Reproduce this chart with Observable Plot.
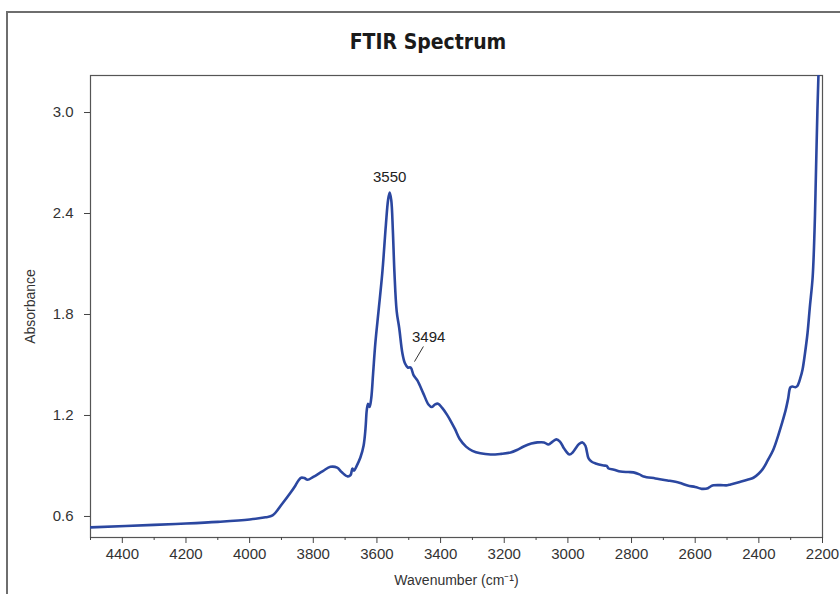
<!DOCTYPE html>
<html>
<head>
<meta charset="utf-8">
<script src="https://cdn.jsdelivr.net/npm/d3@7"></script>
<script src="https://cdn.jsdelivr.net/npm/@observablehq/plot@0.6"></script>
<style>
  html, body { margin: 0; padding: 0; background: #fff; width: 840px; height: 594px; overflow: hidden; }
  #frame { position: absolute; left: 6px; top: 11px; width: 860px; height: 620px; border: 2px solid #6e6e6e; box-sizing: border-box; }
  #title { position: absolute; left: 0; width: 856px; top: 30px; text-align: center;
    font-family: "Liberation Sans Narrow", "DejaVu Sans Condensed", "Liberation Sans", sans-serif;
    font-weight: bold; font-size: 21px; color: #1a1a1a; }
  #chart { position: absolute; left: 0; top: 60px; }
</style>
</head>
<body>
<div id="frame"></div>
<div id="title">FTIR Spectrum</div>
<div id="chart"></div>
<script>
const wavenumber = [4500,4300,4200,4100,4000,3950,3928,3897,3870,3856,3846,3838,3828,3818,3800,3770,3746,3725,3710,3692,3683,3677,3672,3665,3652,3642,3636,3632,3628,3623,3618,3612,3605,3595,3583,3572,3565,3560,3555,3550,3545,3538,3530,3520,3512,3503,3494,3485,3473,3454,3438,3428,3418,3408,3395,3380,3369,3355,3340,3320,3300,3275,3243,3210,3180,3160,3139,3115,3096,3075,3061,3048,3036,3025,3014,3005,2995,2985,2976,2965,2954,2945,2935,2925,2913,2888,2878,2872,2855,2835,2810,2794,2775,2762,2725,2687,2650,2624,2600,2583,2577,2560,2550,2542,2520,2499,2489,2460,2436,2417,2400,2385,2373,2355,2341,2328,2316,2308,2301,2295,2285,2279,2270,2263,2255,2247,2240,2231,2225,2222,2216,2210,2205];
const absorbance = [0.535,0.550,0.558,0.568,0.582,0.595,0.606,0.677,0.745,0.784,0.815,0.830,0.828,0.818,0.835,0.870,0.895,0.890,0.862,0.838,0.845,0.885,0.872,0.895,0.950,1.02,1.12,1.23,1.27,1.25,1.30,1.45,1.63,1.82,2.05,2.33,2.48,2.525,2.48,2.30,2.05,1.82,1.72,1.57,1.51,1.485,1.485,1.44,1.408,1.33,1.265,1.250,1.265,1.270,1.245,1.205,1.170,1.12,1.06,1.015,0.99,0.975,0.968,0.972,0.98,0.995,1.016,1.033,1.040,1.040,1.028,1.045,1.058,1.045,1.010,0.985,0.968,0.980,1.004,1.030,1.040,1.020,0.945,0.925,0.915,0.903,0.900,0.885,0.878,0.867,0.864,0.862,0.850,0.838,0.826,0.814,0.800,0.784,0.775,0.766,0.764,0.768,0.780,0.785,0.786,0.785,0.790,0.805,0.818,0.830,0.855,0.890,0.930,0.995,1.07,1.15,1.23,1.30,1.367,1.372,1.368,1.375,1.42,1.47,1.57,1.69,1.84,2.02,2.30,2.52,3.01,3.40,3.80];

const majorTicksX = [4400,4200,4000,3800,3600,3400,3200,3000,2800,2600,2400,2200];
const minorTicksX = [4500,4300,4100,3900,3700,3500,3300,3100,2900,2700,2500,2300];
const ticksY = [0.6,1.2,1.8,2.4,3.0];
const xLabel = "Wavenumber (cm⁻¹)";
const yLabel = "Absorbance";

const annotLabels = ["3550","3494"];
const annotX = [3560,3494];
const annotY = [2.525,1.485];
const leaderFrom = [3482,1.52];
const leaderTo = [3454,1.61];

const data = wavenumber.map((w,i)=>({w, a: absorbance[i]}));
const annots = annotLabels.map((t,i)=>({t, w: annotX[i], a: annotY[i]}));

const font = "'Liberation Sans', Arial, sans-serif";
const chart = Plot.plot({
  width: 840,
  height: 534,
  marginLeft: 90,
  marginRight: 18,
  marginTop: 15,
  marginBottom: 57,
  style: {fontFamily: font, fontSize: "15px", color: "#333", background: "transparent"},
  x: {domain: [4500, 2200], label: null},
  y: {domain: [0.475, 3.22], label: null},
  marks: [
    Plot.frame({stroke: "#555", strokeWidth: 1.2}),
    Plot.axisX(minorTicksX, {tickSize: 3, tickFormat: () => "", stroke: "#444", label: null}),
    Plot.axisX(majorTicksX, {tickSize: 6, tickPadding: 5, stroke: "#444", fontSize: 15,
      tickFormat: d => String(d), label: null}),
    Plot.axisY(ticksY, {tickSize: 6, tickPadding: 11, stroke: "#444", fontSize: 15,
      tickFormat: d => d.toFixed(1), label: null}),
    Plot.text([xLabel], {frameAnchor: "bottom", dy: 43, text: d => d, fontSize: 14, fill: "#333",
      textAnchor: "middle", lineAnchor: "middle"}),
    Plot.text([yLabel], {frameAnchor: "left", dx: -60, rotate: -90, text: d => d, fontSize: 14, fill: "#333",
      textAnchor: "middle", lineAnchor: "middle"}),
    Plot.line(data, {x: "w", y: "a", stroke: "#2b47a0", strokeWidth: 2.6, curve: "catmull-rom", clip: true}),
    Plot.text(annots.slice(0,1), {x: "w", y: "a", text: "t", dy: -15, fontSize: 15, fill: "#222"}),
    Plot.text(annots.slice(1), {x: "w", y: "a", text: "t", dx: 18, dy: -30, fontSize: 15, fill: "#222"}),
    Plot.link([{x1: leaderFrom[0], y1: leaderFrom[1], x2: leaderTo[0], y2: leaderTo[1]}], {x1: "x1", y1: "y1", x2: "x2", y2: "y2", stroke: "#333", strokeWidth: 1})
  ]
});
document.getElementById("chart").appendChild(chart);
</script>
</body>
</html>
